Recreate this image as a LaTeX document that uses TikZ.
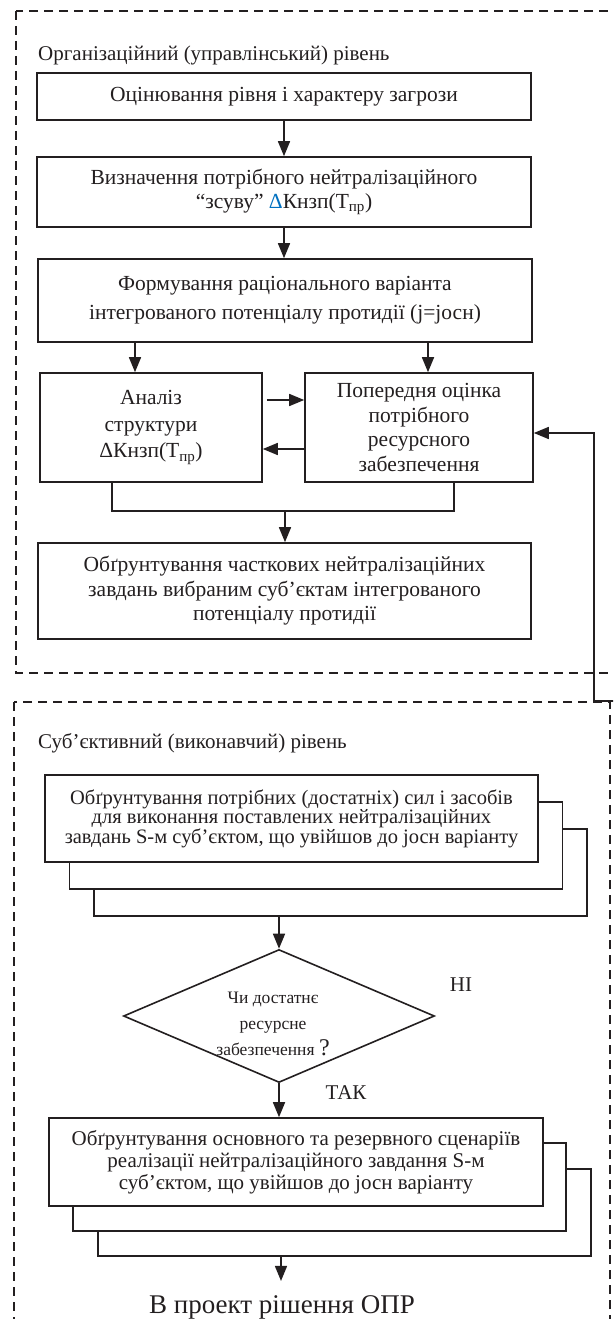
\documentclass[tikz,border=0pt]{standalone}
\usepackage{fontspec}
\setmainfont{Liberation Serif}
\usetikzlibrary{arrows.meta,shapes.geometric}
\definecolor{dblue}{RGB}{0,112,192}
\definecolor{ink}{RGB}{35,31,32}
\begin{document}
\begin{tikzpicture}[x=1pt,y=-1pt,
  box/.style={draw=ink, line width=1.6pt, fill=white, align=center, inner sep=0pt, text=ink},
  arr/.style={draw=ink, -{Triangle[length=15pt,width=12pt]}, line width=1.6pt},
  ln/.style={draw=ink, line width=1.6pt},
  dashbox/.style={draw=ink, line width=1.6pt, dash pattern=on 9pt off 6pt},
  lbl/.style={font=\fontsize{21}{24}\selectfont, inner sep=0pt, text=ink}]
\useasboundingbox (0,0) rectangle (613,1319);
\clip (0,0) rectangle (613,1319);

% dashed frames
\draw[dashbox] (16,11) rectangle (640,673);
\draw[dashbox] (14,702) rectangle (610,1360);

% level titles
\node[lbl, anchor=west] (t1) at (38,55) {Організаційний (управлінський) рівень};
\node[lbl, anchor=west] (t2) at (38,743) {Суб’єктивний (виконавчий) рівень};

% upper boxes
\node[box, font=\fontsize{21.5}{24}\selectfont, minimum width=494pt, minimum height=47pt] (b1) at (284,96.5)
  {Оцінювання рівня і характеру загрози};
\node[box, font=\fontsize{21.5}{24}\selectfont, minimum width=494pt, minimum height=70pt] (b2) at (284,192)
  {Визначення потрібного нейтралізаційного\\“зсуву” \textcolor{dblue}{Δ}Кнзп(Т\textsubscript{пр})};
\node[box, font=\fontsize{21.5}{29}\selectfont, minimum width=494pt, minimum height=83pt] (b3) at (285,300.5)
  {Формування раціонального варіанта\\інтегрованого потенціалу протидії (j=jосн)};
\node[box, font=\fontsize{21.5}{26.5}\selectfont, minimum width=222pt, minimum height=109pt] (b4) at (151,427.5)
  {Аналіз\\структури\\ΔКнзп(Т\textsubscript{пр})};
\node[box, font=\fontsize{21.5}{24.7}\selectfont, minimum width=228pt, minimum height=109pt] (b5) at (419,427.5)
  {Попередня оцінка\\потрібного\\ресурсного\\забезпечення};
\node[box, font=\fontsize{21.5}{24.5}\selectfont, minimum width=493pt, minimum height=96pt] (b6) at (284.5,591)
  {Обґрунтування часткових нейтралізаційних\\завдань вибраним суб’єктам інтегрованого\\потенціалу протидії};

\draw[arr] (b1.south) -- (b2.north);
\draw[arr] (b2.south) -- (b2.south |- b3.north);
\draw[arr] (135,0 |- b3.south) -- (135,0 |- b4.north);
\draw[arr] (428,0 |- b3.south) -- (428,0 |- b5.north);
\draw[arr, shorten <=4pt] (b4.east |- 0,400) -- (b5.west |- 0,400);
\draw[arr] (b5.west |- 0,449) -- (b4.east |- 0,449);
\draw[ln] (112,0 |- b4.south) -- (112,511) -- (454,511) -- (454,0 |- b5.south);
\coordinate (m) at (285,511);
\draw[arr] (m) -- (m |- b6.north);

% feedback
\coordinate (fb) at (615,701);
\draw[arr] (fb) -- (594,701) -- (594,433) -- (b5.east |- 0,433);

% stack 1
\node[box, minimum width=493pt, minimum height=87pt] (s1c) at (340.5,872.5) {};
\node[box, minimum width=493pt, minimum height=87pt] (s1b) at (316,845.5) {};
\node[box, font=\fontsize{20.5}{19}\selectfont, minimum width=493pt, minimum height=87pt] (s1a) at (291.5,818.5)
  {Обґрунтування потрібних (достатніх) сил і засобів\\для виконання поставлених нейтралізаційних\\завдань S-м суб’єктом, що увійшов до jосн варіанту};

% decision
\node[diamond, draw=ink, line width=1.6pt, minimum width=311pt, minimum height=133pt, inner sep=0pt, shape aspect=2.34] (d) at (279,1016) {};
\node[font=\fontsize{17.5}{26}\selectfont, align=center, inner sep=0pt, text=ink] (dt) at (273,1024)
  {Чи достатнє\\ресурсне\\забезпечення {\fontsize{24}{26}\selectfont ?}};
\node[lbl] (no) at (461,985) {НІ};
\node[lbl] (yes) at (346,1093) {ТАК};

\draw[arr] (279,0 |- s1c.south) -- (d.north);

% stack 2
\node[box, minimum width=493pt, minimum height=87pt] (s2c) at (344.5,1212.5) {};
\node[box, minimum width=493pt, minimum height=88pt] (s2b) at (319.5,1187) {};
\node[box, font=\fontsize{21}{22}\selectfont, minimum width=494pt, minimum height=88pt] (s2a) at (296,1162)
  {Обґрунтування основного та резервного сценаріїв\\реалізації нейтралізаційного завдання S-м\\суб’єктом, що увійшов до jосн варіанту};

\draw[arr] (d.south) -- (d.south |- s2a.north);

\node[font=\fontsize{27}{30}\selectfont, inner sep=0pt, anchor=base, text=ink] (out) at (282,1313) {В проект рішення ОПР};
\draw[arr, shorten >=14pt] (281,0 |- s2c.south) -- (281,0 |- out.north);
\end{tikzpicture}
\end{document}
